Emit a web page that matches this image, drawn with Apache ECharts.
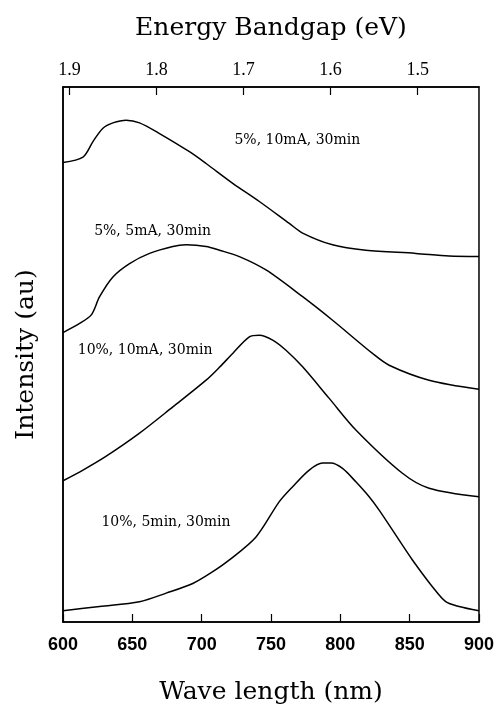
<!DOCTYPE html>
<html>
<head>
<meta charset="utf-8">
<script src="https://cdn.jsdelivr.net/npm/echarts@6/dist/echarts.min.js"></script>
<style>html,body{margin:0;padding:0;background:#fff}#c{width:497px;height:711px}</style>
</head>
<body>
<div id="c"></div>
<script>
// ---- data ----
const wavelengthTicks = [600, 650, 700, 750, 800, 850, 900];
const energyTicks = [1.9, 1.8, 1.7, 1.6, 1.5];

const seriesNames = ['5%, 10mA, 30min', '5%, 5mA, 30min', '10%, 10mA, 30min', '10%, 5min, 30min'];

const wlA  = [600, 614.4, 621.6, 628.8, 636.0, 645.6, 655.2, 669.6, 691.2, 703.2, 722.4, 741.6, 763.2, 772.8, 794.4, 818.4, 854.4, 878.4, 900];
const intA = [85.9, 86.9, 89.8, 92.3, 93.3, 93.8, 93.3, 91.3, 87.9, 85.7, 82.0, 78.6, 74.5, 72.7, 70.5, 69.5, 68.9, 68.4, 68.3];

const wlB  = [600, 612.0, 620.4, 626.4, 636.0, 648.0, 662.4, 679.2, 688.8, 703.2, 712.8, 727.2, 746.4, 772.8, 794.4, 823.2, 835.2, 864.0, 900];
const intB = [54.1, 55.8, 57.4, 60.8, 64.5, 67.0, 68.9, 70.2, 70.5, 70.2, 69.5, 68.3, 65.8, 60.8, 56.4, 50.2, 48.0, 45.2, 43.5];

const wlC  = [600, 614.4, 631.2, 655.2, 679.2, 703.2, 712.8, 722.4, 734.4, 741.6, 751.2, 760.8, 772.8, 792.0, 811.2, 844.8, 864.0, 900];
const intC = [26.4, 28.4, 31.0, 35.3, 40.2, 45.2, 47.6, 50.2, 53.3, 53.6, 52.7, 50.8, 47.7, 41.8, 35.9, 27.8, 25.0, 23.4];

const wlD  = [600, 626.4, 655.2, 674.4, 693.6, 708.0, 720.0, 739.2, 756.0, 765.6, 777.6, 787.2, 793.2, 801.6, 811.2, 820.8, 828.0, 842.4, 852.0, 866.4, 876.0, 885.6, 900];
const intD = [2.1, 2.9, 3.8, 5.4, 7.2, 9.4, 11.6, 15.9, 22.5, 25.3, 28.4, 29.7, 29.7, 28.7, 26.2, 23.4, 20.9, 15.3, 11.6, 6.6, 3.8, 2.9, 2.1];

// label anchor points (wavelength, intensity)
const labelWl  = [769, 664.6, 659.2, 674.3];
const labelInt = [90.1, 73.0, 50.8, 18.7];

// ---- chart ----
const curves = [[wlA, intA], [wlB, intB], [wlC, intC], [wlD, intD]];
const serif = '"DejaVu Serif", "Liberation Serif", serif';

const series = curves.map((c, i) => ({
  type: 'line',
  name: seriesNames[i],
  data: c[0].map((x, k) => [x, c[1][k]]),
  smooth: 0.3,
  showSymbol: false,
  symbol: 'none',
  lineStyle: { color: '#000', width: 1.5 },
  xAxisIndex: 0,
  yAxisIndex: 0,
  silent: true,
  animation: false,
  markPoint: {
    symbol: 'circle',
    symbolSize: 1,
    itemStyle: { color: 'rgba(0,0,0,0)' },
    label: {
      show: true,
      position: 'inside',
      formatter: seriesNames[i],
      color: '#000',
      fontFamily: serif,
      fontSize: 14,
      fontWeight: 'normal'
    },
    data: [{ coord: [labelWl[i], labelInt[i]] }]
  }
}));

const chart = echarts.init(document.getElementById('c'), null, { renderer: 'canvas' });
chart.setOption({
  animation: false,
  backgroundColor: '#fff',
  grid: {
    left: 63, right: 17, top: 87, bottom: 89,
    show: true, borderColor: '#000', borderWidth: 1.5, backgroundColor: 'transparent'
  },
  xAxis: [
    {
      type: 'value', position: 'bottom', min: 600, max: 900, interval: 50,
      name: 'Wave length (nm)', nameLocation: 'middle', nameGap: 58,
      nameTextStyle: { fontFamily: serif, fontSize: 25, color: '#000' },
      axisLine: { show: true, lineStyle: { color: '#000', width: 1.5 } },
      axisTick: { show: true, inside: true, length: 8, lineStyle: { color: '#000', width: 1.2 } },
      axisLabel: {
        show: true, margin: 14, color: '#000',
        fontFamily: '"Liberation Sans", Arial, sans-serif',
        fontSize: 18, fontWeight: 'bold',
        customValues: wavelengthTicks,
        showMinLabel: true, showMaxLabel: true
      },
      splitLine: { show: false }
    },
    {
      type: 'value', position: 'top', inverse: true, min: 1.4295, max: 1.9075,
      name: 'Energy Bandgap (eV)', nameLocation: 'middle', nameGap: 46,
      nameTextStyle: { fontFamily: serif, fontSize: 25, color: '#000' },
      axisLine: { show: true, lineStyle: { color: '#000', width: 1.5 } },
      axisTick: { show: true, inside: true, length: 8, customValues: energyTicks, lineStyle: { color: '#000', width: 1.2 } },
      axisLabel: {
        show: true, margin: 8, color: '#000',
        fontFamily: '"Liberation Serif", serif', fontSize: 18,
        customValues: energyTicks,
        formatter: v => v.toFixed(1)
      },
      splitLine: { show: false }
    }
  ],
  yAxis: [
    {
      type: 'value', min: 0, max: 100,
      name: 'Intensity (au)', nameLocation: 'middle', nameGap: 24, nameRotate: 90,
      nameTextStyle: { fontFamily: serif, fontSize: 25, color: '#000' },
      axisLine: { show: true, lineStyle: { color: '#000', width: 1.5 } },
      axisTick: { show: false },
      axisLabel: { show: false },
      splitLine: { show: false }
    }
  ],
  series: series
});
</script>
</body>
</html>
